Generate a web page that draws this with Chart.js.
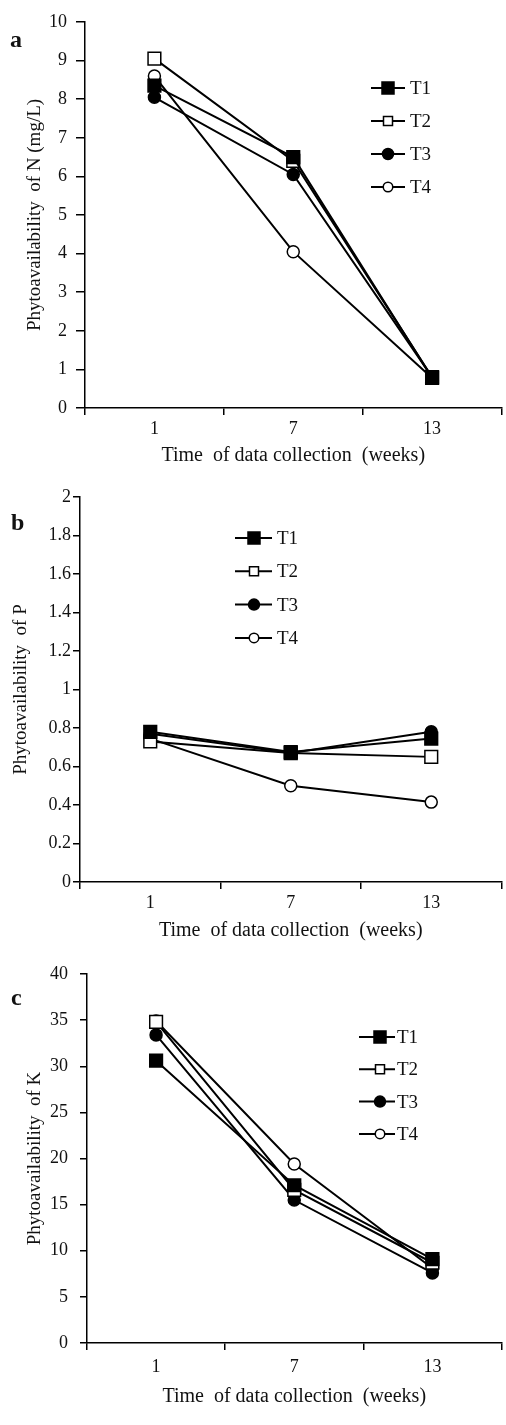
<!DOCTYPE html>
<html>
<head>
<meta charset="utf-8">
<script src="https://cdn.jsdelivr.net/npm/chart.js@4.4.1/dist/chart.umd.min.js"></script>
<style>
  html, body { margin: 0; padding: 0; background: #fff; overflow: hidden; }
  body { width: 506px; height: 1425px; position: relative; overflow: hidden; }
  canvas { position: absolute; left: 0; }
</style>
</head>
<body>
<canvas id="cA" width="512" height="470" style="top:0px"></canvas>
<canvas id="cB" width="512" height="480" style="top:470px"></canvas>
<canvas id="cC" width="512" height="475" style="top:950px"></canvas>
<script>
// ---------- DATA ----------
const weeks = ['1', '7', '13'];
const seriesNames = ['T1', 'T2', 'T3', 'T4'];

// Panel a: Phytoavailability of N (mg/L)
const nT1 = [8.35, 6.5, 0.78];
const nT2 = [9.05, 6.4, 0.8];
const nT3 = [8.05, 6.05, 0.8];
const nT4 = [8.6, 4.05, 0.78];
const nTickValues = [0, 1, 2, 3, 4, 5, 6, 7, 8, 9, 10];
const nTickLabels = ['0', '1', '2', '3', '4', '5', '6', '7', '8', '9', '10'];

// Panel b: Phytoavailability of P
const pT1 = [0.78, 0.675, 0.745];
const pT2 = [0.73, 0.67, 0.65];
const pT3 = [0.77, 0.67, 0.78];
const pT4 = [0.745, 0.5, 0.415];
const pTickValues = [0, 0.2, 0.4, 0.6, 0.8, 1, 1.2, 1.4, 1.6, 1.8, 2];
const pTickLabels = ['0', '0.2', '0.4', '0.6', '0.8', '1', '1.2', '1.4', '1.6', '1.8', '2'];

// Panel c: Phytoavailability of K
const kT1 = [30.6, 17.1, 9.1];
const kT2 = [34.8, 16.6, 8.7];
const kT3 = [33.4, 15.5, 7.6];
const kT4 = [34.9, 19.4, 8.1];
const kTickValues = [0, 5, 10, 15, 20, 25, 30, 35, 40];
const kTickLabels = ['0', '5', '10', '15', '20', '25', '30', '35', '40'];

const xTitle = 'Time  of data collection  (weeks)';

// ---------- STYLE ----------
const FONT = "'Liberation Serif', 'Times New Roman', serif";
Chart.defaults.font.family = FONT;
Chart.defaults.color = '#111';
const markerStyles = [
  { shape: 'rect', fill: '#000' },
  { shape: 'rect', fill: '#fff' },
  { shape: 'circle', fill: '#000' },
  { shape: 'circle', fill: '#fff' }
];

function drawMarker(ctx, shape, fill, x, y, size) {
  ctx.save();
  ctx.fillStyle = fill;
  ctx.strokeStyle = '#000';
  ctx.lineWidth = 1.5;
  ctx.beginPath();
  if (shape === 'rect') {
    ctx.rect(x - size / 2, y - size / 2, size, size);
  } else {
    ctx.arc(x, y, size / 2, 0, Math.PI * 2);
  }
  ctx.fill();
  ctx.stroke();
  ctx.restore();
}

const innerLegend = {
  id: 'innerLegend',
  afterDatasetsDraw(chart, args, o) {
    const ctx = chart.ctx;
    const sizes = [12, 9, 11, 9.5];
    chart.data.datasets.forEach((ds, i) => {
      const y = o.y0 + i * o.dy;
      ctx.save();
      ctx.strokeStyle = '#000';
      ctx.lineWidth = 2;
      ctx.beginPath();
      ctx.moveTo(o.x0, y);
      ctx.lineTo(o.x1, y);
      ctx.stroke();
      ctx.restore();
      const st = markerStyles[i];
      drawMarker(ctx, st.shape, st.fill, o.xm, y, sizes[i]);
      ctx.save();
      ctx.fillStyle = '#111';
      ctx.font = '19px ' + FONT;
      ctx.textBaseline = 'middle';
      ctx.textAlign = 'left';
      ctx.fillText(ds.label, o.xt, y + 1);
      ctx.restore();
    });
  }
};

const panelLetter = {
  id: 'panelLetter',
  afterDraw(chart, args, o) {
    const ctx = chart.ctx;
    ctx.save();
    ctx.fillStyle = '#111';
    ctx.font = 'bold 24px ' + FONT;
    ctx.textBaseline = 'alphabetic';
    ctx.textAlign = 'left';
    ctx.fillText(o.text, o.x, o.y);
    ctx.restore();
  }
};

function makeDatasets(series) {
  return series.map((data, i) => ({
    label: seriesNames[i],
    data: data,
    borderColor: '#000',
    borderWidth: 2,
    pointStyle: markerStyles[i].shape,
    pointRadius: markerStyles[i].shape === 'rect' ? 9 : 6,
    pointHoverRadius: markerStyles[i].shape === 'rect' ? 9 : 6,
    pointBackgroundColor: markerStyles[i].fill,
    pointBorderColor: '#000',
    pointBorderWidth: 1.5,
    tension: 0,
    fill: false
  }));
}

function makeChart(id, series, cfg) {
  return new Chart(document.getElementById(id), {
    type: 'line',
    data: { labels: weeks, datasets: makeDatasets(series) },
    plugins: [innerLegend, panelLetter],
    options: {
      responsive: false,
      animation: false,
      events: [],
      layout: { padding: cfg.padding },
      plugins: {
        legend: { display: false },
        tooltip: { enabled: false },
        innerLegend: cfg.legend,
        panelLetter: cfg.letter
      },
      scales: {
        x: {
          type: 'category',
          offset: true,
          grid: { display: true, drawOnChartArea: false, drawTicks: true, tickLength: 7, color: '#000', lineWidth: 1.5, offset: true },
          border: { display: true, color: '#000', width: 1.5 },
          ticks: { padding: cfg.xTickPad, font: { size: 18 }, color: '#111', maxRotation: 0, autoSkip: false },
          title: { display: true, text: xTitle, font: { size: 20 }, color: '#111', padding: { top: 0, bottom: cfg.xTitlePadB } },
          afterFit: s => { s.height = cfg.xHeight; }
        },
        y: {
          type: 'linear',
          min: cfg.tickValues[0],
          max: cfg.tickValues[cfg.tickValues.length - 1],
          afterBuildTicks: s => { s.ticks = cfg.tickValues.map(v => ({ value: v })); },
          grid: { display: true, drawOnChartArea: false, drawTicks: true, tickLength: cfg.yTickLen, color: '#000', lineWidth: 1.5 },
          border: { display: true, color: '#000', width: 1.5 },
          ticks: { padding: cfg.yTickPad, font: { size: 18 }, color: '#111', callback: (v, i) => cfg.tickLabels[i] },
          title: { display: true, text: cfg.yTitle, font: { size: 19 }, color: '#111', padding: { top: cfg.yTitlePadT, bottom: 0 } },
          afterFit: s => { s.width = cfg.yWidth; }
        }
      }
    }
  });
}

makeChart('cA', [nT1, nT2, nT3, nT4], {
  padding: { top: 22, right: 10, left: 0, bottom: 0 },
  xHeight: 62, xTickPad: 3, xTitlePadB: 2,
  yWidth: 85, yTickLen: 9, yTickPad: 9, yTitlePadT: 24,
  yTitle: 'Phytoavailability  of N (mg/L)',
  tickValues: nTickValues, tickLabels: nTickLabels,
  legend: { x0: 371, x1: 405, xm: 388, xt: 410, y0: 88, dy: 33 },
  letter: { text: 'a', x: 10, y: 47 }
});

makeChart('cB', [pT1, pT2, pT3, pT4], {
  padding: { top: 27, right: 10, left: 0, bottom: 0 },
  xHeight: 68, xTickPad: 3, xTitlePadB: 7,
  yWidth: 80, yTickLen: 7, yTickPad: 2, yTitlePadT: 10,
  yTitle: 'Phytoavailability  of P',
  tickValues: pTickValues, tickLabels: pTickLabels,
  legend: { x0: 235, x1: 272, xm: 254, xt: 277, y0: 68, dy: 33.3 },
  letter: { text: 'b', x: 11, y: 60 }
});

makeChart('cC', [kT1, kT2, kT3, kT4], {
  padding: { top: 24, right: 9, left: 0, bottom: 0 },
  xHeight: 82, xTickPad: 6, xTitlePadB: 16,
  yWidth: 87, yTickLen: 7, yTickPad: 12, yTitlePadT: 24,
  yTitle: 'Phytoavailability  of K',
  tickValues: kTickValues, tickLabels: kTickLabels,
  legend: { x0: 359, x1: 395, xm: 380, xt: 397, y0: 87, dy: 32.3 },
  letter: { text: 'c', x: 11, y: 55 }
});
</script>
</body>
</html>
